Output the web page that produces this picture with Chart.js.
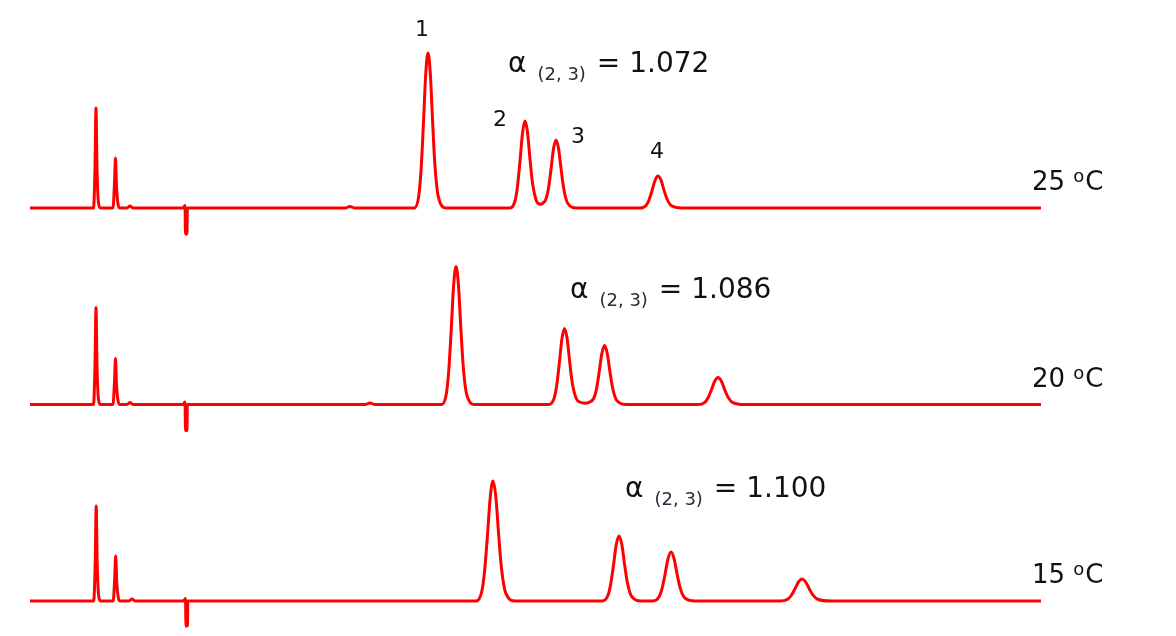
<!DOCTYPE html>
<html>
<head>
<meta charset="utf-8">
<title>Chromatograms at three temperatures</title>
<script src="https://cdn.jsdelivr.net/npm/chart.js@4.4.1/dist/chart.umd.min.js"></script>
<style>
	html, body { margin: 0; padding: 0; background: #fff; }
	.chart-box { width: 1176px; height: 636px; position: relative; }
</style>
</head>
<body>
<div class="chart-box"><canvas id="chrom"></canvas></div>
<script>
'use strict'

// temperatures, top to bottom
const temperatures = ['25', '20', '15']
// separation factor of peaks 2 and 3 at each temperature
const alphaValues = ['1.072', '1.086', '1.100']
const peakNames = ['1', '2', '3', '4']

// [retention time, signal]
const trace25 = [
	[3.0, 0],
	[9.35, 0], [9.5, 40], [9.6, 100], [9.7, 40], [9.85, 5], [10.05, 0],
	[11.3, 0], [11.45, 25], [11.55, 50], [11.65, 22], [11.8, 4], [12.0, 0],
	[12.7, 0], [13.0, 2], [13.3, 0],
	[18.3, 0], [18.5, 2.5], [18.55, -26], [18.7, -26], [18.73, 0], [19.0, 0],
	[34.5, 0], [35.0, 1.5], [35.5, 0],
	[41.42, 0], [41.88, 12.4], [42.11, 38.8], [42.34, 83.7], [42.57, 133.3], [42.8, 155], [43.03, 134.9], [43.26, 86.8], [43.49, 43.4], [43.84, 10.9], [44.64, 0],
	[51.0, 0], [51.5, 7], [51.75, 21.8], [52.0, 47], [52.25, 74.8], [52.5, 87], [52.75, 75.7], [53.0, 48.7], [53.25, 25], [53.63, 7.5], [53.85, 4.5], [54.05, 3.8],
	[54.3, 5], [54.56, 8], [54.82, 18], [55.08, 37], [55.34, 58.5], [55.6, 68], [55.86, 59.2], [56.12, 38.1], [56.38, 19], [56.77, 4.8], [57.68, 0],
	[64.0, 0], [64.6, 2.6], [64.9, 8], [65.2, 17.3], [65.5, 27.5], [65.8, 32], [66.1, 27.8], [66.4, 17.9], [66.7, 9], [67.15, 2.2], [68.2, 0],
	[104.1, 0],
]

const trace20 = [
	[3.0, 0],
	[9.35, 0], [9.5, 39], [9.6, 97], [9.7, 39], [9.85, 5], [10.05, 0],
	[11.3, 0], [11.45, 23], [11.55, 46], [11.65, 20], [11.8, 4], [12.0, 0],
	[12.7, 0], [13.0, 2], [13.3, 0],
	[18.3, 0], [18.5, 2.5], [18.55, -26], [18.7, -26], [18.73, 0], [19.0, 0],
	[36.5, 0], [37.0, 1.5], [37.5, 0],
	[44.16, 0], [44.64, 11], [44.88, 34.5], [45.12, 74.5], [45.36, 118.7], [45.6, 138], [45.84, 120.1], [46.08, 77.3], [46.32, 38.6], [46.68, 9.7], [47.52, 0],
	[54.89, 0], [55.41, 6.1], [55.67, 19], [55.93, 41], [56.19, 65.4], [56.45, 76], [56.71, 66.1], [56.97, 42.6], [57.23, 21.5], [57.62, 6], [58.05, 2.2], [58.5, 1.3],
	[58.9, 2.2], [59.37, 6], [59.64, 15], [59.91, 31.9], [60.18, 50.7], [60.45, 59], [60.72, 51.3], [60.99, 33], [61.26, 16.5], [61.67, 4.1], [62.61, 0],
	[69.82, 0], [70.48, 2.2], [70.81, 6.8], [71.14, 14.6], [71.47, 23.2], [71.8, 27], [72.13, 23.5], [72.46, 15.1], [72.79, 7.6], [73.29, 1.9], [74.44, 0],
	[104.1, 0],
]

const trace15 = [
	[3.0, 0],
	[9.37, 0], [9.52, 38], [9.62, 95], [9.72, 38], [9.87, 5], [10.07, 0],
	[11.32, 0], [11.47, 23], [11.57, 45], [11.67, 20], [11.82, 4], [12.02, 0],
	[12.9, 0], [13.2, 2], [13.5, 0],
	[18.35, 0], [18.55, 2.5], [18.6, -25], [18.75, -25], [18.78, 0], [19.05, 0],
	[47.62, 0], [48.18, 9.6], [48.46, 30], [48.74, 64.8], [49.02, 103.2], [49.3, 120], [49.58, 104.4], [49.86, 67.2], [50.14, 33.6], [50.56, 8.4], [51.54, 0],
	[60.22, 0], [60.78, 5.2], [61.06, 16.3], [61.34, 35.1], [61.62, 55.9], [61.9, 65], [62.18, 56.6], [62.46, 36.4], [62.74, 18.2], [63.16, 4.6], [64.14, 0],
	[65.3, 0], [65.9, 3.9], [66.2, 12.3], [66.5, 26.5], [66.8, 42.1], [67.1, 49], [67.4, 42.6], [67.7, 27.4], [68.0, 13.7], [68.45, 3.4], [69.5, 0],
	[78.04, 0], [78.76, 1.8], [79.12, 5.5], [79.48, 11.9], [79.84, 18.9], [80.2, 22], [80.56, 19.1], [80.92, 12.3], [81.28, 6.2], [81.82, 1.5], [83.08, 0],
	[104.1, 0],
]

// where the texts sit, in [time, signal] of each trace's own axis
const peakLabelSpots = [[42.2, 172], [50.0, 82], [57.8, 65], [65.7, 50]]
const alphaLabelSpots = [[50.8, 136], [57.0, 107], [62.5, 104]]
const tempLabelSpot = [103.2, 18]

const axisIds = ['y25', 'y20', 'y15']
const traces = [trace25, trace20, trace15]

function toPoints(trace) {
	return trace.map(([t, s]) => ({ x: t, y: s }))
}

const textPlugin = {
	id: 'chromTexts',
	afterDraw(chart) {
		const { ctx, scales } = chart
		const xs = scales.x
		ctx.save()
		ctx.textBaseline = 'alphabetic'

		// peak numbers over the top trace
		ctx.fillStyle = '#111'
		ctx.font = '22px "DejaVu Sans"'
		ctx.textAlign = 'center'
		peakNames.forEach((name, i) => {
			const [t, s] = peakLabelSpots[i]
			ctx.fillText(name, xs.getPixelForValue(t), scales.y25.getPixelForValue(s))
		})

		ctx.textAlign = 'left'
		axisIds.forEach((id, i) => {
			const ys = scales[id]

			// alpha (2, 3) = value
			let x = xs.getPixelForValue(alphaLabelSpots[i][0])
			const y = ys.getPixelForValue(alphaLabelSpots[i][1])
			ctx.fillStyle = '#111'
			ctx.font = '28px "DejaVu Sans"'
			ctx.fillText('α', x, y)
			x += ctx.measureText('α').width + 11
			ctx.fillStyle = '#2b2b3a'
			ctx.font = '18px "DejaVu Sans"'
			ctx.fillText('(2, 3)', x, y + 8)
			x += ctx.measureText('(2, 3)').width + 11
			ctx.fillStyle = '#111'
			ctx.font = '28px "DejaVu Sans"'
			ctx.fillText('= ' + alphaValues[i], x, y)

			// temperature at the right end
			let tx = xs.getPixelForValue(tempLabelSpot[0])
			const ty = ys.getPixelForValue(tempLabelSpot[1])
			ctx.font = '26px "DejaVu Sans"'
			ctx.fillText(temperatures[i] + ' ', tx, ty)
			tx += ctx.measureText(temperatures[i] + ' ').width
			ctx.font = '18px "DejaVu Sans"'
			ctx.fillText('o', tx, ty - 8)
			tx += ctx.measureText('o').width + 1
			ctx.font = '26px "DejaVu Sans"'
			ctx.fillText('C', tx, ty)
		})
		ctx.restore()
	},
}

const yAxis = {
	type: 'linear',
	position: 'right',
	stack: 'traces',
	stackWeight: 1,
	min: -28,
	max: 168.5,
	display: false,
}

new Chart(document.getElementById('chrom'), {
	type: 'line',
	data: {
		datasets: traces.map((trace, i) => ({
			label: temperatures[i] + ' °C',
			data: toPoints(trace),
			yAxisID: axisIds[i],
			borderColor: '#ff0000',
			borderWidth: 3,
			pointRadius: 0,
			fill: false,
			tension: 0.4,
			cubicInterpolationMode: 'monotone',
		})),
	},
	options: {
		responsive: true,
		maintainAspectRatio: false,
		animation: false,
		layout: { padding: { left: 0, right: 0, top: 39.5, bottom: 7 } },
		plugins: {
			legend: { display: false },
			tooltip: { enabled: false },
		},
		scales: {
			x: { type: 'linear', min: 0, max: 117.6, display: false },
			y25: { ...yAxis },
			y20: { ...yAxis },
			y15: { ...yAxis },
		},
	},
	plugins: [textPlugin],
})
</script>
</body>
</html>
